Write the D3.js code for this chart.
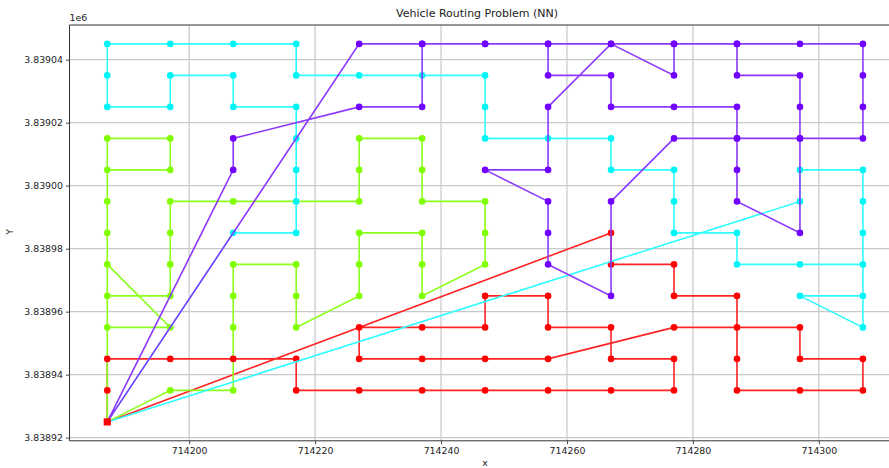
<!DOCTYPE html>
<html>
<head>
<meta charset="utf-8">
<script src="https://cdn.jsdelivr.net/npm/d3@7"></script>
<style>
  body { margin: 0; background: #fff; }
  text { font-family: "DejaVu Sans", sans-serif; fill: #222; }
</style>
</head>
<body>
<div id="chart"></div>
<script>
var width = 889,
    height = 468;

// plot box (the right edge runs past the window, the figure is cropped)
var plotLeft = 69.5, plotRight = 900.7, plotTop = 25, plotBottom = 440.8;

var xTicks = [714200, 714220, 714240, 714260, 714280, 714300];
var yTicks = [3838920, 3838940, 3838960, 3838980, 3839000, 3839020, 3839040];

var depot = [714187, 3838925];

// routes, each from the depot back to the depot
var greenRoute = [[714187,3838925],[714197,3838935],[714207,3838935],[714207,3838955],[714207,3838965],[714207,3838975],[714217,3838975],[714217,3838965],[714217,3838955],[714227,3838965],[714227,3838975],[714227,3838985],[714237,3838985],[714237,3838975],[714237,3838965],[714247,3838975],[714247,3838985],[714247,3838995],[714237,3838995],[714237,3839005],[714237,3839015],[714227,3839015],[714227,3839005],[714227,3838995],[714207,3838995],[714197,3838995],[714197,3838985],[714197,3838975],[714197,3838965],[714187,3838965],[714187,3838955],[714197,3838955],[714187,3838975],[714187,3838985],[714187,3838995],[714187,3839005],[714197,3839005],[714197,3839015],[714187,3839015],[714187,3838925]];

var redRoute = [[714187,3838925],[714187,3838935],[714187,3838945],[714197,3838945],[714207,3838945],[714217,3838945],[714217,3838935],[714227,3838935],[714237,3838935],[714247,3838935],[714257,3838935],[714267,3838935],[714277,3838935],[714277,3838945],[714267,3838945],[714267,3838955],[714257,3838955],[714257,3838965],[714247,3838965],[714247,3838955],[714237,3838955],[714227,3838955],[714227,3838945],[714237,3838945],[714247,3838945],[714257,3838945],[714277,3838955],[714287,3838955],[714297,3838955],[714297,3838945],[714307,3838945],[714307,3838935],[714297,3838935],[714287,3838935],[714287,3838945],[714287,3838965],[714277,3838965],[714277,3838975],[714267,3838975],[714267,3838985],[714187,3838925]];

var cyanRoute = [[714187,3838925],[714207,3838985],[714217,3838985],[714217,3838995],[714217,3839005],[714217,3839015],[714217,3839025],[714207,3839025],[714207,3839035],[714197,3839035],[714197,3839025],[714187,3839025],[714187,3839035],[714187,3839045],[714197,3839045],[714207,3839045],[714217,3839045],[714217,3839035],[714227,3839035],[714237,3839035],[714247,3839035],[714247,3839025],[714247,3839015],[714257,3839015],[714267,3839015],[714267,3839005],[714277,3839005],[714277,3838995],[714277,3838985],[714287,3838985],[714287,3838975],[714297,3838975],[714307,3838975],[714307,3838965],[714297,3838965],[714307,3838955],[714307,3838985],[714307,3838995],[714307,3839005],[714297,3839005],[714297,3838995],[714187,3838925]];

var purpleRoute = [[714187,3838925],[714207,3839005],[714207,3839015],[714227,3839025],[714237,3839025],[714237,3839045],[714247,3839045],[714257,3839045],[714257,3839035],[714267,3839035],[714267,3839025],[714277,3839025],[714287,3839025],[714287,3839015],[714287,3839005],[714287,3838995],[714297,3838985],[714297,3839015],[714287,3839015],[714277,3839015],[714267,3838995],[714267,3838965],[714257,3838975],[714257,3838985],[714257,3838995],[714247,3839005],[714257,3839005],[714257,3839025],[714267,3839045],[714277,3839035],[714277,3839045],[714287,3839045],[714287,3839035],[714297,3839035],[714297,3839025],[714297,3839015],[714307,3839015],[714307,3839025],[714307,3839035],[714307,3839045],[714297,3839045],[714287,3839045],[714277,3839045],[714267,3839045],[714257,3839045],[714247,3839045],[714237,3839045],[714227,3839045],[714187,3838925]];

// line colour is a little lighter than the dot colour, as in the picture
var lineColors = {green: "#8cff1c", red: "#ff2424", cyan: "#30ffff", purple: "#8c38ff"};
var dotColors = {green: "#80ff00", red: "#ff0000", cyan: "#00f6f6", purple: "#7000ff"};

var x = d3.scaleLinear().domain([714181, 714313]).range([plotLeft, plotRight]);
var y = d3.scaleLinear().domain([3838919, 3839051]).range([plotBottom, plotTop]);

var svg = d3.select("#chart").append("svg")
  .attr("width", width)
  .attr("height", height);

// grid
svg.append("g").selectAll("line").data(xTicks).enter().append("line")
  .attr("x1", d => x(d)).attr("x2", d => x(d))
  .attr("y1", plotTop).attr("y2", plotBottom)
  .attr("stroke", "#c8c8c8").attr("stroke-width", 1.2);
svg.append("g").selectAll("line").data(yTicks).enter().append("line")
  .attr("x1", plotLeft).attr("x2", plotRight)
  .attr("y1", d => y(d)).attr("y2", d => y(d))
  .attr("stroke", "#c8c8c8").attr("stroke-width", 1.2);

var line = d3.line().x(d => x(d[0])).y(d => y(d[1]));

function drawLine(route, color) {
  svg.append("path")
    .attr("d", line(route))
    .attr("fill", "none")
    .attr("stroke", color)
    .attr("stroke-width", 1.6);
}
function drawDots(route, color) {
  svg.append("g").selectAll("circle").data(route.slice(1, -1)).enter().append("circle")
    .attr("cx", d => x(d[0]))
    .attr("cy", d => y(d[1]))
    .attr("r", 3.3)
    .attr("fill", color);
}

// layering as seen in the picture
drawLine(redRoute, lineColors.red);
drawLine(greenRoute, lineColors.green);
drawDots(greenRoute, dotColors.green);
drawDots(redRoute, dotColors.red);
drawLine(cyanRoute, lineColors.cyan);
drawDots(cyanRoute, dotColors.cyan);
drawLine(purpleRoute, lineColors.purple);
drawDots(purpleRoute, dotColors.purple);

// depot
svg.append("rect")
  .attr("x", x(depot[0]) - 3.6).attr("y", y(depot[1]) - 3.6)
  .attr("width", 7.2).attr("height", 7.2)
  .attr("fill", "#ff0000");

// axes
var xAxis = d3.axisBottom(x).tickValues(xTicks).tickFormat(d3.format("d")).tickSizeOuter(0).tickSize(3.5).tickPadding(3);
var yAxis = d3.axisLeft(y).tickValues(yTicks).tickFormat(d => (d / 1e6).toFixed(5)).tickSizeOuter(0).tickSize(3.5).tickPadding(3);

var gx = svg.append("g").attr("transform", "translate(0," + plotBottom + ")").call(xAxis);
var gy = svg.append("g").attr("transform", "translate(" + plotLeft + ",0)").call(yAxis);
[gx, gy].forEach(function(g) {
  g.select(".domain").remove();
  g.selectAll(".tick line").attr("stroke", "#333").attr("stroke-width", 0.9);
  g.selectAll(".tick text").attr("font-size", 9.4).attr("fill", "#222")
    .style("font-family", "'DejaVu Sans', sans-serif");
});

// spines
svg.append("line").attr("x1", plotLeft).attr("x2", plotLeft).attr("y1", plotTop).attr("y2", plotBottom)
  .attr("stroke", "#333").attr("stroke-width", 1);
svg.append("line").attr("x1", plotLeft).attr("x2", plotRight).attr("y1", plotBottom).attr("y2", plotBottom)
  .attr("stroke", "#333").attr("stroke-width", 1);
svg.append("line").attr("x1", plotLeft).attr("x2", plotRight).attr("y1", plotTop).attr("y2", plotTop)
  .attr("stroke", "#333").attr("stroke-width", 1);

// texts
svg.append("text").attr("x", (plotLeft + plotRight) / 2 - 8).attr("y", 17)
  .attr("text-anchor", "middle").attr("font-size", 11)
  .text("Vehicle Routing Problem (NN)");
svg.append("text").attr("x", plotLeft).attr("y", 21).attr("font-size", 9.4).text("1e6");
svg.append("text").attr("x", 485).attr("y", 466).attr("text-anchor", "middle").attr("font-size", 9.4).text("x");
svg.append("text").attr("transform", "translate(13,232) rotate(-90)")
  .attr("text-anchor", "middle").attr("font-size", 9.4).text("Y");
</script>
</body>
</html>
